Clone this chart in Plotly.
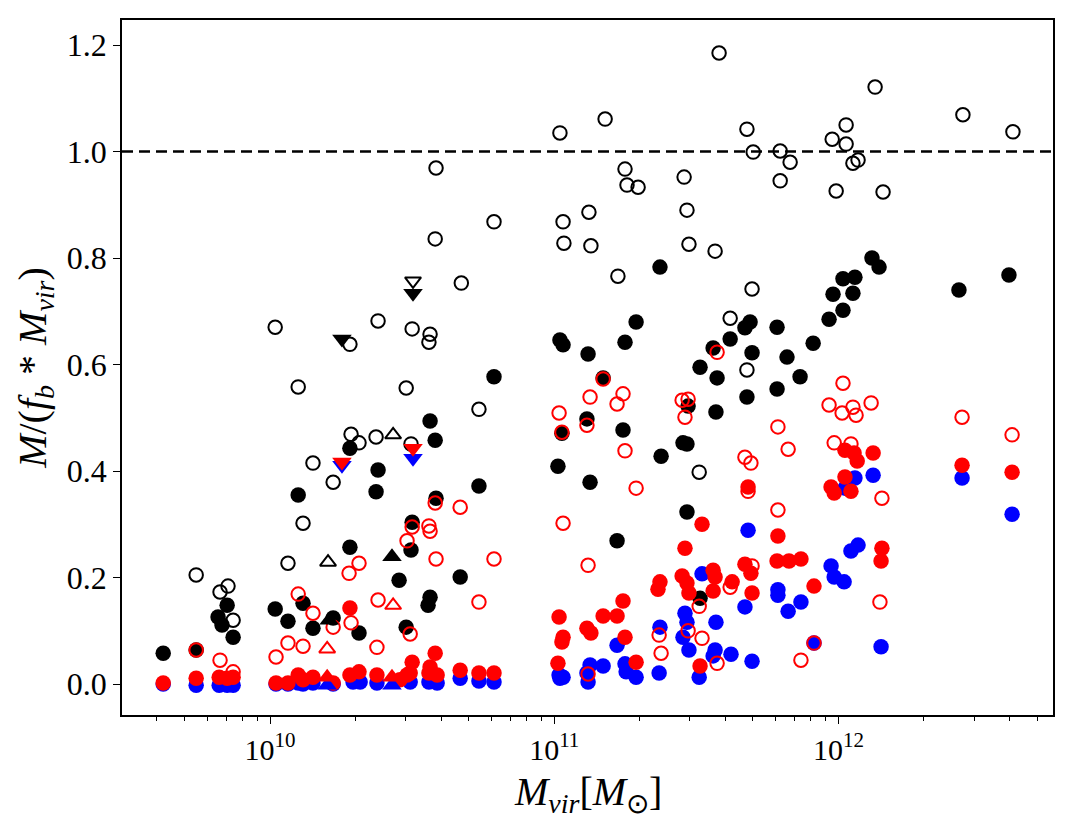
import plotly.graph_objects as go

# ---------------- data (log10 Mvir, M/(fb*Mvir)) ----------------
# black open circles
bo_logm = [9.740, 9.824, 9.852, 9.870, 10.063, 10.018, 10.099, 10.151, 10.222, 10.116,
           10.281, 10.285, 10.313, 10.373, 10.380, 10.479, 10.496, 10.500, 10.563, 10.559,
           10.584, 10.581, 10.673, 10.735, 10.788, 11.020, 11.031, 11.034, 11.122, 11.129,
           11.179, 11.224, 11.249, 11.256, 11.295, 11.457, 11.467, 11.474, 11.510, 11.566,
           11.580, 11.619, 11.678, 11.678, 11.696, 11.700, 11.795, 11.795, 11.830, 11.978,
           11.992, 12.027, 12.027, 12.051, 12.069, 12.129, 12.157, 12.438, 12.614]
bo_y = [0.205, 0.173, 0.184, 0.120, 0.227, 0.670, 0.558, 0.415, 0.379, 0.302,
        0.638, 0.469, 0.453, 0.464, 0.682, 0.556, 0.451, 0.667, 0.657, 0.642,
        0.969, 0.836, 0.753, 0.516, 0.868, 1.035, 0.868, 0.828, 0.886, 0.823,
        1.061, 0.766, 0.967, 0.937, 0.933, 0.952, 0.890, 0.826, 0.398, 0.813,
        1.185, 0.687, 1.042, 0.590, 0.742, 0.999, 1.001, 0.945, 0.980, 1.023,
        0.926, 1.050, 1.014, 0.978, 0.984, 1.121, 0.924, 1.069, 1.037]

# black filled circles
bf_logm = [9.624, 9.740, 9.849, 9.817, 9.831, 9.870, 10.018, 10.063, 10.116, 10.151,
           10.222, 10.313, 10.281, 10.454, 10.479, 10.496, 10.099, 10.281, 10.373, 10.380,
           10.500, 10.563, 10.581, 10.584, 10.735, 10.788, 10.669, 10.563, 10.556, 11.020,
           11.031, 11.119, 11.249, 11.288, 11.172, 11.115, 11.027, 11.242, 11.013, 11.126,
           11.221, 11.376, 11.453, 11.467, 11.471, 11.513, 11.467, 11.372, 11.513, 11.619,
           11.559, 11.573, 11.569, 11.689, 11.671, 11.784, 11.696, 11.819, 11.911, 11.865,
           11.678, 11.784, 11.967, 12.016, 11.981, 12.016, 12.058, 12.051, 12.118, 12.143,
           12.424, 12.600]
bf_y = [0.058, 0.064, 0.148, 0.126, 0.111, 0.088, 0.141, 0.118, 0.152, 0.105,
        0.124, 0.096, 0.257, 0.195, 0.107, 0.252, 0.355, 0.443, 0.361, 0.402,
        0.304, 0.494, 0.458, 0.349, 0.372, 0.577, 0.201, 0.163, 0.148, 0.646,
        0.637, 0.620, 0.642, 0.680, 0.575, 0.498, 0.471, 0.477, 0.409, 0.379,
        0.269, 0.428, 0.453, 0.451, 0.522, 0.595, 0.323, 0.783, 0.161, 0.648,
        0.631, 0.575, 0.511, 0.680, 0.669, 0.670, 0.622, 0.614, 0.640, 0.577,
        0.539, 0.554, 0.685, 0.702, 0.732, 0.761, 0.764, 0.734, 0.800, 0.783,
        0.740, 0.768]

# red open circles
ro_logm = [9.740, 9.824, 9.870, 10.099, 10.151, 10.222, 10.285, 10.278, 10.313, 10.380,
           10.493, 10.063, 10.116, 10.021, 10.376, 10.482, 10.500, 10.559, 10.563, 10.581,
           10.669, 10.584, 10.788, 10.735, 11.126, 11.242, 11.221, 11.017, 11.115, 11.027,
           11.172, 11.249, 11.288, 11.031, 11.119, 11.450, 11.471, 11.460, 11.573, 11.510,
           11.369, 11.376, 11.471, 11.520, 11.573, 11.119, 12.016, 11.967, 12.013, 12.051,
           12.062, 12.115, 12.435, 12.611, 11.787, 11.823, 11.985, 12.044, 11.671, 11.692,
           12.153, 11.682, 11.787, 11.696, 11.619, 12.146, 11.914, 11.868]
ro_y = [0.064, 0.045, 0.023, 0.169, 0.133, 0.107, 0.115, 0.208, 0.227, 0.158,
        0.094, 0.077, 0.071, 0.051, 0.069, 0.269, 0.295, 0.297, 0.287, 0.340,
        0.332, 0.235, 0.235, 0.154, 0.539, 0.545, 0.526, 0.509, 0.486, 0.473,
        0.573, 0.438, 0.368, 0.302, 0.223, 0.533, 0.535, 0.501, 0.623, 0.146,
        0.092, 0.058, 0.100, 0.086, 0.039, 0.019, 0.565, 0.524, 0.509, 0.520,
        0.505, 0.528, 0.501, 0.468, 0.483, 0.441, 0.453, 0.451, 0.426, 0.415,
        0.349, 0.362, 0.327, 0.222, 0.182, 0.154, 0.077, 0.045]

# red filled circles
rf_logm = [9.624, 9.740, 9.821, 9.849, 9.870, 10.281, 10.021, 10.063, 10.099, 10.116,
           10.151, 10.222, 10.281, 10.313, 10.376, 10.457, 10.493, 10.500, 10.482, 10.563,
           10.559, 10.581, 10.588, 10.669, 10.735, 10.788, 11.017, 11.031, 11.027, 11.115,
           11.129, 11.172, 11.221, 11.242, 11.249, 11.372, 11.365, 11.460, 11.450, 11.467,
           11.474, 11.520, 11.559, 11.566, 11.559, 11.288, 11.013, 11.513, 12.023, 12.055,
           12.066, 12.122, 12.435, 12.611, 12.023, 11.974, 11.985, 12.044, 11.682, 11.787,
           11.784, 11.826, 11.868, 12.153, 12.150, 11.671, 11.692, 11.626, 11.914, 11.696]
rf_y = [0.002, 0.011, 0.013, 0.011, 0.013, 0.143, 0.002, 0.002, 0.017, 0.008,
        0.013, 0.002, 0.017, 0.023, 0.017, 0.008, 0.021, 0.041, 0.017, 0.032,
        0.021, 0.058, 0.017, 0.026, 0.021, 0.021, 0.126, 0.088, 0.079, 0.105,
        0.096, 0.128, 0.128, 0.156, 0.088, 0.192, 0.178, 0.255, 0.203, 0.190,
        0.171, 0.300, 0.214, 0.201, 0.175, 0.041, 0.039, 0.034, 0.439, 0.434,
        0.419, 0.434, 0.411, 0.398, 0.389, 0.370, 0.359, 0.362, 0.370, 0.278,
        0.231, 0.231, 0.235, 0.255, 0.231, 0.225, 0.208, 0.192, 0.184, 0.171]

# blue filled circles
bl_logm = [9.624, 9.740, 9.821, 9.849, 9.870, 10.021, 10.063, 10.099, 10.116, 10.151,
           10.222, 10.292, 10.317, 10.376, 10.493, 10.559, 10.588, 10.669, 10.735, 10.788,
           11.017, 11.031, 11.020, 11.115, 11.126, 11.119, 11.172, 11.221, 11.249, 11.253,
           11.288, 11.369, 11.372, 11.460, 11.467, 11.453, 11.474, 11.510, 11.520, 11.569,
           11.566, 11.559, 11.622, 11.696, 11.682, 11.671, 11.787, 11.787, 11.823, 11.868,
           11.974, 11.985, 12.020, 12.044, 12.069, 12.058, 12.122, 12.023, 12.435, 12.611,
           11.914, 12.150]
bl_y = [0.000, -0.002, -0.002, -0.002, -0.002, 0.000, 0.000, 0.002, 0.000, 0.002,
        0.000, 0.004, 0.004, 0.002, 0.004, 0.004, 0.002, 0.011, 0.006, 0.004,
        0.017, 0.013, 0.011, 0.021, 0.036, 0.004, 0.034, 0.073, 0.038, 0.023,
        0.013, 0.021, 0.107, 0.133, 0.116, 0.088, 0.064, 0.013, 0.207, 0.116,
        0.064, 0.053, 0.056, 0.043, 0.289, 0.145, 0.177, 0.167, 0.137, 0.154,
        0.222, 0.201, 0.192, 0.250, 0.261, 0.387, 0.392, 0.368, 0.387, 0.319,
        0.077, 0.070]

# triangles (down = one galaxy class, up = another)
bo_tdn_logm, bo_tdn_y = [10.503], [0.757]
bf_tdn_logm, bf_tdn_y = [10.503, 10.253], [0.734, 0.648]
rf_tdn_logm, rf_tdn_y = [10.253, 10.503], [0.417, 0.443]
bl_tdn_logm, bl_tdn_y = [10.253, 10.503], [0.411, 0.424]
bo_tup_logm, bo_tup_y = [10.433, 10.204], [0.468, 0.229]
bf_tup_logm, bf_tup_y = [10.429, 10.208], [0.239, 0.120]
ro_tup_logm, ro_tup_y = [10.433, 10.201], [0.148, 0.066]
rf_tup_logm, rf_tup_y = [10.201, 10.429], [0.013, 0.013]
bl_tup_logm, bl_tup_y = [10.201, 10.429], [-0.002, -0.002]

x_tickvals = [1e10, 1e11, 1e12]
x_ticktext = ["10<sup>10</sup>", "10<sup>11</sup>", "10<sup>12</sup>"]
y_tickvals = [0.0, 0.2, 0.4, 0.6, 0.8, 1.0, 1.2]
x_title = "<i>M</i><sub><i>vir</i></sub>[<i>M</i><sub>⊙</sub>]"
y_title = "<i>M</i>/(<i>f</i><sub><i>b</i></sub> * <i>M</i><sub><i>vir</i></sub>)"

# ---------------- figure ----------------
def m(lst):
    return [10 ** v for v in lst]

fig = go.Figure()

def add(xs, ys, symbol, color, size, filled=True):
    if filled:
        marker = dict(symbol=symbol, size=size, color=color, line=dict(width=0))
    else:
        marker = dict(symbol=symbol + "-open", size=size, color=color, line=dict(width=2, color=color))
    fig.add_trace(go.Scatter(x=m(xs), y=ys, mode="markers", marker=marker,
                             showlegend=False, hoverinfo="skip"))

add(bo_logm, bo_y, "circle", "black", 13.5, filled=False)
add(bf_logm, bf_y, "circle", "black", 15.5)
add(bl_logm, bl_y, "circle", "blue", 15.5)
add(rf_logm, rf_y, "circle", "red", 15.5)
add(ro_logm, ro_y, "circle", "red", 13.5, filled=False)

add(bo_tdn_logm, bo_tdn_y, "triangle-down", "black", 14, filled=False)
add(bf_tdn_logm, bf_tdn_y, "triangle-down", "black", 17)
add(bl_tdn_logm, bl_tdn_y, "triangle-down", "blue", 17)
add(rf_tdn_logm, rf_tdn_y, "triangle-down", "red", 17)
add(bo_tup_logm, bo_tup_y, "triangle-up", "black", 14, filled=False)
add(bf_tup_logm, bf_tup_y, "triangle-up", "black", 17)
add(bl_tup_logm, bl_tup_y, "triangle-up", "blue", 17)
add(rf_tup_logm, rf_tup_y, "triangle-up", "red", 17)
add(ro_tup_logm, ro_tup_y, "triangle-up", "red", 14, filled=False)

fig.add_shape(type="line", xref="paper", yref="y", x0=0, x1=1, y0=1.0, y1=1.0,
              line=dict(color="black", width=2.5, dash="11px,6px"), layer="above")

minor_vals = []
for dec in [1e9, 1e10, 1e11, 1e12]:
    for k in range(2, 10):
        minor_vals.append(k * dec)

font_family = "Liberation Serif"

fig.add_annotation(text=x_title, xref="paper", yref="paper", x=0.5, y=-0.114,
                   xanchor="center", yanchor="middle", showarrow=False,
                   font=dict(size=40, family=font_family, color="black"))

fig.update_layout(
    width=1075, height=825,
    margin=dict(l=122, r=22, t=20, b=110),
    paper_bgcolor="white", plot_bgcolor="white",
    font=dict(family=font_family, color="black", size=30),
    xaxis=dict(
        type="log", range=[9.479, 12.755],
        tickvals=x_tickvals, ticktext=x_ticktext,
        ticks="outside", ticklen=7, tickwidth=1.3, tickcolor="black",
        minor=dict(tickvals=minor_vals, ticks="outside", ticklen=4, tickwidth=1, tickcolor="black", showgrid=False),
        showline=True, linecolor="black", linewidth=1.5, mirror=True,
        showgrid=False, zeroline=False,
        tickfont=dict(size=30, family=font_family),
    ),
    yaxis=dict(
        range=[-0.058, 1.247],
        tickvals=y_tickvals, tickformat=".1f",
        ticks="outside", ticklen=7, tickwidth=1.3, tickcolor="black",
        showline=True, linecolor="black", linewidth=1.5, mirror=True,
        showgrid=False, zeroline=False,
        tickfont=dict(size=32, family=font_family),
        title=dict(text=y_title, font=dict(size=40, family=font_family), standoff=8),
    ),
)

fig.write_html("out.html")
